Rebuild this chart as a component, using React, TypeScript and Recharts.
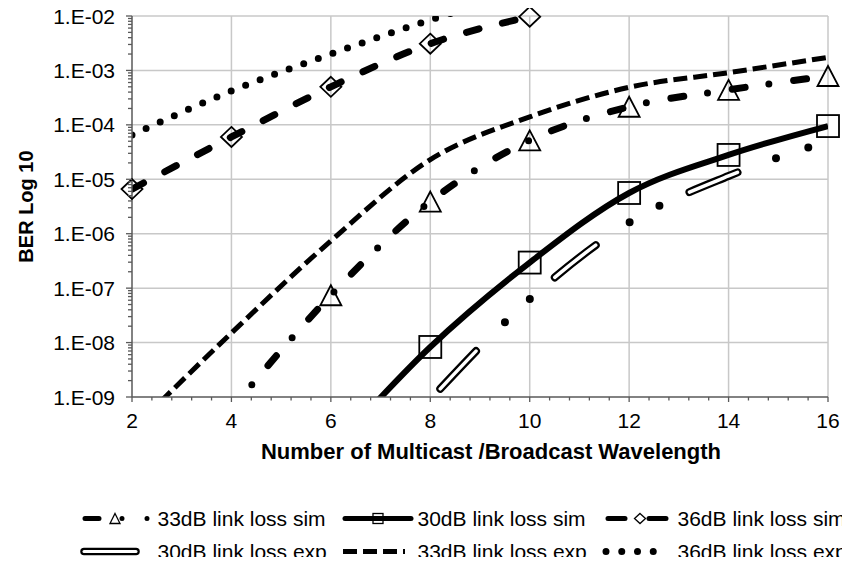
import React from 'react';
import { ComposedChart, Line, Scatter, XAxis, YAxis, ReferenceLine, Label } from 'recharts';

// ---------------- data ----------------
const SIM33_X = [4, 6, 8, 10, 12, 14, 16];
const SIM33_BER = [6e-10, 7.4e-8, 3.9e-6, 5.2e-5, 2.15e-4, 4.4e-4, 7.9e-4];

const SIM30_X = [6, 8, 10, 12, 14, 16];
const SIM30_BER = [1.0e-10, 8.3e-9, 2.95e-7, 5.6e-6, 2.8e-5, 9.5e-5];

const SIM36_X = [2, 4, 6, 8, 10];
const SIM36_BER = [6.6e-6, 6.0e-5, 5.0e-4, 3.1e-3, 9.7e-3];

const EXP30_X = [8, 10, 12, 14, 16];
const EXP30_BER = [9e-10, 6.3e-8, 1.6e-6, 1.15e-5, 5.0e-5];

const EXP33_X = [2, 4, 6, 8, 10, 12, 14, 16];
const EXP33_BER = [2.5e-10, 1.5e-8, 7.4e-7, 2.3e-5, 1.4e-4, 4.9e-4, 9.1e-4, 1.74e-3];

const EXP36_X = [2, 4, 6, 8, 10];
const EXP36_BER = [6.5e-5, 4.2e-4, 2.0e-3, 8.5e-3, 3.0e-2];

const X_MAJOR_TICKS = [2, 4, 6, 8, 10, 12, 14, 16];
const X_MINOR_TICKS = [
  2.4, 2.8, 3.2, 3.6, 4.4, 4.8, 5.2, 5.6, 6.4, 6.8, 7.2, 7.6, 8.4, 8.8, 9.2, 9.6,
  10.4, 10.8, 11.2, 11.6, 12.4, 12.8, 13.2, 13.6, 14.4, 14.8, 15.2, 15.6,
];
const Y_MAJOR_TICKS = [1e-9, 1e-8, 1e-7, 1e-6, 1e-5, 1e-4, 1e-3, 1e-2];
const Y_TICK_LABELS = ['1.E-09', '1.E-08', '1.E-07', '1.E-06', '1.E-05', '1.E-04', '1.E-03', '1.E-02'];
const Y_MINOR_STEPS = [2, 3, 4, 5, 6, 7, 8, 9];

const X_TITLE = 'Number of Multicast /Broadcast Wavelength';
const Y_TITLE = 'BER Log 10';
const LEGEND_LABELS = [
  '33dB link loss sim',
  '30dB link loss sim',
  '36dB link loss sim',
  '30dB link loss exp',
  '33dB link loss exp',
  '36dB link loss exp',
];

// ---------------- helpers ----------------
const zip = (xs: number[], ys: number[]) => xs.map((x, i) => ({ x, y: ys[i] }));
const Y_MIN = Y_MAJOR_TICKS[0];
const Y_MAX = Y_MAJOR_TICKS[Y_MAJOR_TICKS.length - 1];
const inRange = (p: { x: number; y: number }) => p.y >= Y_MIN * 0.999 && p.y <= Y_MAX * 1.001;

const sim33 = zip(SIM33_X, SIM33_BER);
const sim30 = zip(SIM30_X, SIM30_BER);
const sim36 = zip(SIM36_X, SIM36_BER);
const exp30 = zip(EXP30_X, EXP30_BER);
const exp33 = zip(EXP33_X, EXP33_BER);
const exp36 = zip(EXP36_X, EXP36_BER);

const Y_MINOR_TICKS = Y_MAJOR_TICKS.slice(0, -1).flatMap((m) => Y_MINOR_STEPS.map((s) => m * s));
const Y_ALL_TICKS = [...Y_MAJOR_TICKS, ...Y_MINOR_TICKS].sort((a, b) => a - b);
const X_ALL_TICKS = [...X_MAJOR_TICKS, ...X_MINOR_TICKS].sort((a, b) => a - b);

// ---------------- styles ----------------
const W = 850;
const H = 565;
const FONT = '"Liberation Sans", Arial, sans-serif';
const AXIS_COLOR = '#595959';
const GRID_COLOR = '#c8c8c8';
const INK = '#000000';
const Y_AXIS_W = 132;
const X_AXIS_H = 60;
const TICK_SIZE = 6;
const Y_TICK_MARGIN = 11;
const X_TICK_MARGIN = 10;

const YTick = (props: any) => {
  const { x, y, payload } = props;
  const v = payload.value as number;
  const idx = Y_MAJOR_TICKS.findIndex((m) => Math.abs(Math.log10(m) - Math.log10(v)) < 1e-6);
  const axisX = x + TICK_SIZE + Y_TICK_MARGIN;
  const len = idx >= 0 ? 6 : 4;
  return (
    <g>
      <line x1={axisX - len} x2={axisX} y1={y} y2={y} stroke={AXIS_COLOR} strokeWidth={1.3} />
      {idx >= 0 && (
        <text x={x} y={y + 7.5} textAnchor="end" fontFamily={FONT} fontSize={21} fill={INK}>
          {Y_TICK_LABELS[idx]}
        </text>
      )}
    </g>
  );
};

const XTick = (props: any) => {
  const { x, y, payload } = props;
  const v = payload.value as number;
  const major = X_MAJOR_TICKS.indexOf(v) >= 0;
  const axisY = y - TICK_SIZE - X_TICK_MARGIN;
  const len = major ? 5 : 3.5;
  return (
    <g>
      <line x1={x} x2={x} y1={axisY} y2={axisY + len} stroke={AXIS_COLOR} strokeWidth={1.3} />
      {major && (
        <text x={x} y={y + 15} textAnchor="middle" fontFamily={FONT} fontSize={21} fill={INK}>
          {String(v)}
        </text>
      )}
    </g>
  );
};

type MarkerKind = 'triangle' | 'square' | 'diamond';
const Marker = ({ kind, cx, cy, w, h, sw }: { kind: MarkerKind; cx: number; cy: number; w: number; h: number; sw: number }) => {
  if (kind === 'triangle') {
    const pts = `${cx},${cy - h / 2} ${cx + w / 2},${cy + h / 2} ${cx - w / 2},${cy + h / 2}`;
    return <polygon points={pts} fill="none" stroke={INK} strokeWidth={sw} strokeLinejoin="miter" />;
  }
  if (kind === 'square') {
    return <rect x={cx - w / 2} y={cy - h / 2} width={w} height={h} fill="none" stroke={INK} strokeWidth={sw} />;
  }
  const pts = `${cx},${cy - h / 2} ${cx + w / 2},${cy} ${cx},${cy + h / 2} ${cx - w / 2},${cy}`;
  return <polygon points={pts} fill="none" stroke={INK} strokeWidth={sw} />;
};

const markerShape = (kind: MarkerKind) => (p: any) => (
  <Marker kind={kind} cx={p.cx} cy={p.cy} w={kind === 'square' ? 22 : 21} h={kind === 'square' ? 22 : 20} sw={1.8} />
);

const YTitle = (props: any) => {
  const vb = props.viewBox || { x: 0, y: 16, width: Y_AXIS_W, height: 381 };
  const cx = vb.x + 33;
  const cy = vb.y + vb.height / 2;
  return (
    <text
      x={cx}
      y={cy}
      transform={`rotate(-90, ${cx}, ${cy})`}
      textAnchor="middle"
      fontFamily={FONT}
      fontSize={20}
      fontWeight="bold"
      fill={INK}
    >
      {Y_TITLE}
    </text>
  );
};

const XTitle = (props: any) => {
  const vb = props.viewBox || { x: 132, y: 397, width: 696, height: X_AXIS_H };
  const cx = vb.x + vb.width / 2 + 11;
  const cy = vb.y + 62;
  return (
    <text x={cx} y={cy} textAnchor="middle" fontFamily={FONT} fontSize={22} fontWeight="bold" fill={INK}>
      {X_TITLE}
    </text>
  );
};

// ---------------- legend ----------------
const LEG_ROWS = [518.5, 551.5];
const LEG_COLS = [83, 343, 603];
const LEG_SYM_W = 70;

const LegendSymbol = ({ index, x, y }: { index: number; x: number; y: number }) => {
  switch (index) {
    case 0:
      return (
        <g>
          <line x1={x + 2} x2={x + 68} y1={y} y2={y} stroke={INK} strokeWidth={5} strokeLinecap="round" strokeDasharray="14 23 0 25 0 100" />
          <Marker kind="triangle" cx={x + 32} cy={y} w={10} h={10} sw={1.3} />
        </g>
      );
    case 1:
      return (
        <g>
          <line x1={x + 2} x2={x + 68} y1={y} y2={y} stroke={INK} strokeWidth={5} strokeLinecap="round" />
          <Marker kind="square" cx={x + 35} cy={y} w={10} h={10} sw={1.3} />
        </g>
      );
    case 2:
      return (
        <g>
          <line x1={x + 5} x2={x + 64} y1={y} y2={y} stroke={INK} strokeWidth={5} strokeLinecap="round" strokeDasharray="17 24 17 100" />
          <Marker kind="diamond" cx={x + 37} cy={y} w={11} h={10} sw={1.3} />
        </g>
      );
    case 3:
      return (
        <g>
          <line x1={x + 1} x2={x + 53} y1={y} y2={y} stroke={INK} strokeWidth={7.5} strokeLinecap="round" />
          <line x1={x + 1} x2={x + 53} y1={y} y2={y} stroke="#ffffff" strokeWidth={3} strokeLinecap="round" />
        </g>
      );
    case 4:
      return <line x1={x} x2={x + 62} y1={y} y2={y} stroke={INK} strokeWidth={5} strokeDasharray="14 6" />;
    default:
      return <line x1={x + 3} x2={x + 66} y1={y} y2={y} stroke={INK} strokeWidth={7} strokeLinecap="round" strokeDasharray="0 15.75" />;
  }
};

const ChartLegend = () => (
  <svg width={W} height={H} style={{ position: 'absolute', left: 0, top: 0, pointerEvents: 'none' }}>
    {LEGEND_LABELS.map((label, i) => {
      const row = Math.floor(i / 3);
      const col = i % 3;
      const x = LEG_COLS[col];
      const y = LEG_ROWS[row];
      return (
        <g key={label}>
          <LegendSymbol index={i} x={x} y={y} />
          <text x={x + LEG_SYM_W + 4.5} y={y + 7.5} fontFamily={FONT} fontSize={21} fill={INK}>
            {label}
          </text>
        </g>
      );
    })}
  </svg>
);

// ---------------- chart ----------------
export default function App() {
  return (
    <div style={{ position: 'relative', width: W, height: H, margin: -8 }}>
      <ComposedChart width={W} height={H} margin={{ top: 16, right: 22, left: 0, bottom: 108 }}>
        <XAxis
          xAxisId={0}
          dataKey="x"
          type="number"
          domain={[2, 16]}
          allowDataOverflow
          ticks={X_ALL_TICKS}
          interval={0}
          height={X_AXIS_H}
          tickSize={TICK_SIZE}
          tickMargin={X_TICK_MARGIN}
          tickLine={false}
          tick={<XTick />}
          axisLine={{ stroke: AXIS_COLOR, strokeWidth: 1.5 }}
        >
          <Label content={<XTitle />} />
        </XAxis>
        <YAxis
          yAxisId={0}
          dataKey="y"
          type="number"
          scale="log"
          domain={[Y_MIN, Y_MAX]}
          allowDataOverflow
          ticks={Y_ALL_TICKS}
          interval={0}
          width={Y_AXIS_W}
          tickSize={TICK_SIZE}
          tickMargin={Y_TICK_MARGIN}
          tickLine={false}
          tick={<YTick />}
          axisLine={{ stroke: AXIS_COLOR, strokeWidth: 1.5 }}
        >
          <Label content={<YTitle />} />
        </YAxis>
        <XAxis xAxisId="m" dataKey="x" type="number" domain={[2, 16]} hide />
        <YAxis yAxisId="m" dataKey="y" type="number" scale="log" domain={[Y_MIN, Y_MAX]} hide />

        {Y_MAJOR_TICKS.slice(1).map((v) => (
          <ReferenceLine key={`gy${v}`} y={v} stroke={GRID_COLOR} strokeWidth={1.5} />
        ))}
        {X_MAJOR_TICKS.slice(1).map((v) => (
          <ReferenceLine key={`gx${v}`} x={v} stroke={GRID_COLOR} strokeWidth={1.5} />
        ))}

        {/* 33dB link loss exp */}
        <Line data={exp33} dataKey="y" type="monotone" stroke={INK} strokeWidth={5} strokeDasharray="14 6" dot={false} isAnimationActive={false} />
        {/* 36dB link loss exp */}
        <Line data={exp36} dataKey="y" type="monotone" stroke={INK} strokeWidth={7} strokeLinecap="round" strokeDasharray="0 15.5" dot={false} isAnimationActive={false} />
        {/* 30dB link loss exp (double line, long dash dot dot) */}
        <Line data={exp30} dataKey="y" type="monotone" stroke={INK} strokeWidth={8} strokeLinecap="round" strokeDasharray="52 41 0 34 0 33" strokeDashoffset={145.5} dot={false} isAnimationActive={false} />
        <Line data={exp30} dataKey="y" type="monotone" stroke="#ffffff" strokeWidth={3.5} strokeLinecap="round" strokeDasharray="52 108" strokeDashoffset={145.5} dot={false} isAnimationActive={false} />
        {/* 36dB link loss sim */}
        <Line data={sim36} dataKey="y" type="monotone" stroke={INK} strokeWidth={7} strokeLinecap="round" strokeDasharray="13 24" dot={false} isAnimationActive={false} />
        {/* 33dB link loss sim */}
        <Line data={sim33} dataKey="y" type="monotone" stroke={INK} strokeWidth={7} strokeLinecap="round" strokeDasharray="13 24 0 25" strokeDashoffset={5.4} dot={false} isAnimationActive={false} />
        {/* 30dB link loss sim */}
        <Line data={sim30} dataKey="y" type="monotone" stroke={INK} strokeWidth={6} dot={false} isAnimationActive={false} />

        <Scatter xAxisId="m" yAxisId="m" data={sim33.filter(inRange)} shape={markerShape('triangle')} isAnimationActive={false} />
        <Scatter xAxisId="m" yAxisId="m" data={sim30.filter(inRange)} shape={markerShape('square')} isAnimationActive={false} />
        <Scatter xAxisId="m" yAxisId="m" data={sim36.filter(inRange)} shape={markerShape('diamond')} isAnimationActive={false} />
      </ComposedChart>
      <ChartLegend />
    </div>
  );
}
